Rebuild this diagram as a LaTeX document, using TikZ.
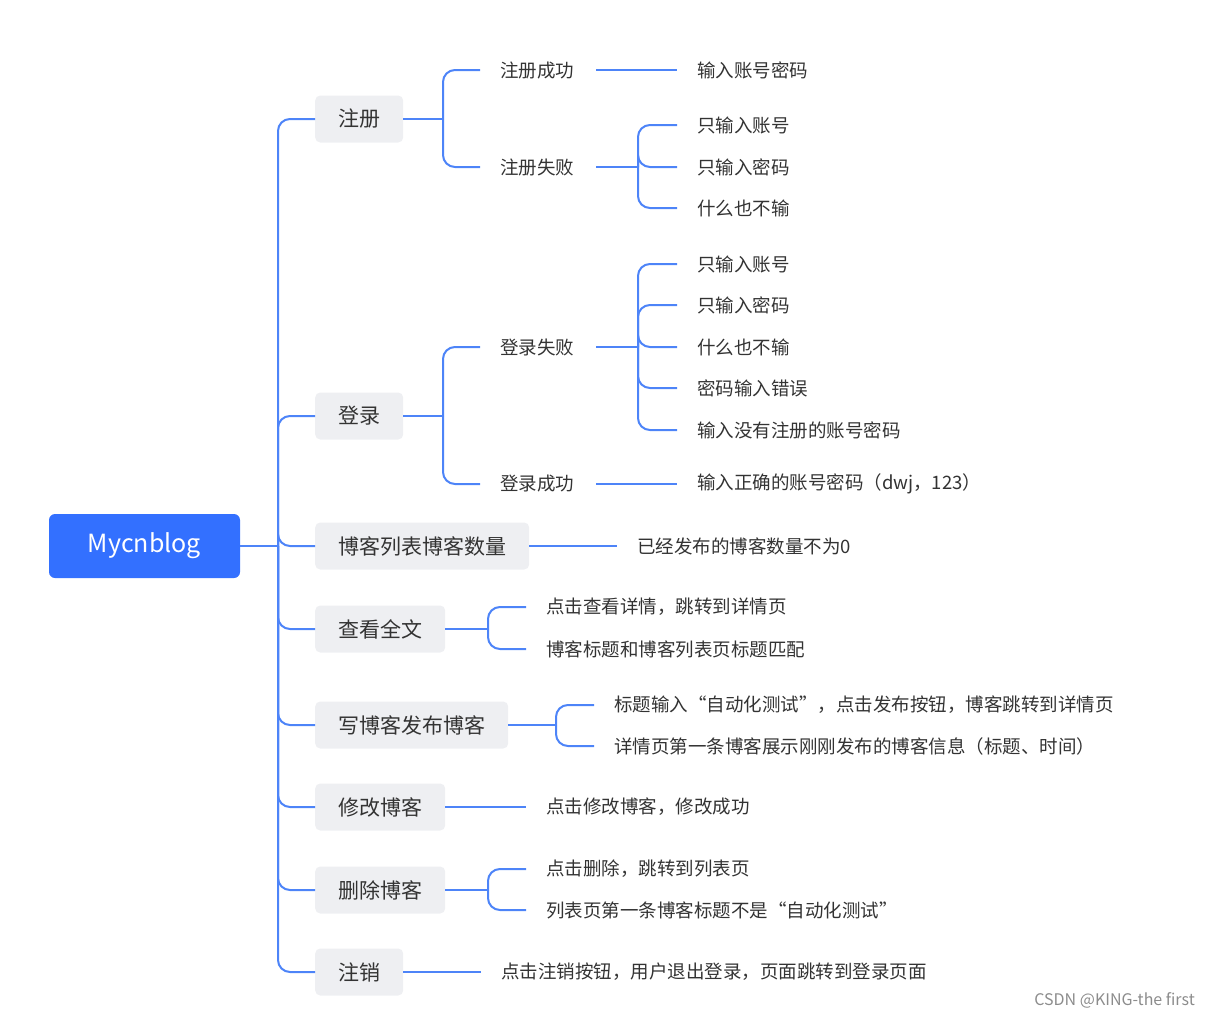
\documentclass[tikz,border=0pt]{standalone}
\usepackage{fontspec}
\setmainfont{Noto Sans CJK SC}
\begin{document}
\begin{tikzpicture}[x=1pt,y=-1pt,
 conn/.style={draw=lineblue,line width=2pt,rounded corners=12pt},
 l1/.style={fill=boxgray,rounded corners=5pt,anchor=west,inner xsep=23pt,minimum height=47pt,font=\fontsize{21}{24}\selectfont,text=black!80},
 l2/.style={anchor=west,inner sep=0pt,font=\fontsize{18.5}{22}\selectfont,text=black!80}]
\definecolor{lineblue}{HTML}{4D84F8}
\definecolor{rootblue}{HTML}{3370FF}
\definecolor{boxgray}{HTML}{EEEFF2}
\useasboundingbox (0,0) rectangle (1211,1017);
\node[fill=rootblue,rounded corners=6pt,minimum width=191pt,minimum height=64pt,text=white,font=\fontsize{25}{28}\selectfont] (root) at (144.5,546) {Mycnblog};
\node[l1] (zc) at (315,119) {注册};
\node[l1] (dl) at (315,416) {登录};
\node[l1] (lb) at (315,546) {博客列表博客数量};
\node[l1] (ck) at (315,629) {查看全文};
\node[l1] (xb) at (315,725) {写博客发布博客};
\node[l1] (xg) at (315,807) {修改博客};
\node[l1] (sc) at (315,890) {删除博客};
\node[l1] (zx) at (315,972) {注销};
\coordinate (t) at (278,546);
\draw[conn] (root.east) -- (t);
\foreach \n in {zc,dl,lb,ck,xb,xg,sc,zx} \draw[conn] (t) |- (\n.west);
% 注册
\node[l2] (zcs) at (500,70) {注册成功};
\node[l2] (zcf) at (500,167) {注册失败};
\coordinate (j1) at (443,119);
\draw[conn] (zc.east) -- (j1);
\foreach \n in {zcs,zcf} \draw[conn] (j1) |- ([xshift=-20pt]\n.west);
\node[l2] (a1) at (697,70) {输入账号密码};
\draw[conn] ([xshift=22pt]zcs.east) -- ([xshift=-20pt]a1.west);
\node[l2] (b1) at (697,125) {只输入账号};
\node[l2] (b2) at (697,167) {只输入密码};
\node[l2] (b3) at (697,208) {什么也不输};
\coordinate (j2) at (638,167);
\draw[conn] ([xshift=22pt]zcf.east) -- (j2);
\foreach \n in {b1,b2,b3} \draw[conn] (j2) |- ([xshift=-20pt]\n.west);
% 登录
\node[l2] (dlf) at (500,347) {登录失败};
\node[l2] (dls) at (500,484) {登录成功};
\coordinate (j3) at (443,416);
\draw[conn] (dl.east) -- (j3);
\foreach \n in {dlf,dls} \draw[conn] (j3) |- ([xshift=-20pt]\n.west);
\node[l2] (c1) at (697,264) {只输入账号};
\node[l2] (c2) at (697,305) {只输入密码};
\node[l2] (c3) at (697,347) {什么也不输};
\node[l2] (c4) at (697,388) {密码输入错误};
\node[l2] (c5) at (697,430) {输入没有注册的账号密码};
\coordinate (j4) at (638,347);
\draw[conn] ([xshift=22pt]dlf.east) -- (j4);
\foreach \n in {c1,c2,c3,c4,c5} \draw[conn] (j4) |- ([xshift=-20pt]\n.west);
\node[l2] (c6) at (697,484) {输入正确的账号密码（dwj，123）};
\draw[conn] ([xshift=22pt]dls.east) -- ([xshift=-20pt]c6.west);
% 博客列表
\node[l2] (d1) at (637,546) {已经发布的博客数量不为0};
\draw[conn] (lb.east) -- ([xshift=-20pt]d1.west);
% 查看全文
\node[l2] (e1) at (546,607) {点击查看详情，跳转到详情页};
\node[l2] (e2) at (546,649) {博客标题和博客列表页标题匹配};
\coordinate (j5) at (488,629);
\draw[conn] (ck.east) -- (j5);
\foreach \n in {e1,e2} \draw[conn] (j5) |- ([xshift=-20pt]\n.west);
% 写博客
\node[l2] (f1) at (614,705) {标题输入“自动化测试”，点击发布按钮，博客跳转到详情页};
\node[l2] (f2) at (614,746) {详情页第一条博客展示刚刚发布的博客信息（标题、时间）};
\coordinate (j6) at (556,725);
\draw[conn] (xb.east) -- (j6);
\foreach \n in {f1,f2} \draw[conn] (j6) |- ([xshift=-20pt]\n.west);
% 修改
\node[l2] (g1) at (546,807) {点击修改博客，修改成功};
\draw[conn] (xg.east) -- ([xshift=-20pt]g1.west);
% 删除
\node[l2] (h1) at (546,869) {点击删除，跳转到列表页};
\node[l2] (h2) at (546,910) {列表页第一条博客标题不是“自动化测试”};
\coordinate (j7) at (488,890);
\draw[conn] (sc.east) -- (j7);
\foreach \n in {h1,h2} \draw[conn] (j7) |- ([xshift=-20pt]\n.west);
% 注销
\node[l2] (k1) at (501,972) {点击注销按钮，用户退出登录，页面跳转到登录页面};
\draw[conn] (zx.east) -- ([xshift=-20pt]k1.west);
\node[anchor=east,inner sep=0pt,text=black!45,font=\fontsize{16}{18}\selectfont] (wm) at (1195,1000) {CSDN @KING-the first};
\end{tikzpicture}
\end{document}
